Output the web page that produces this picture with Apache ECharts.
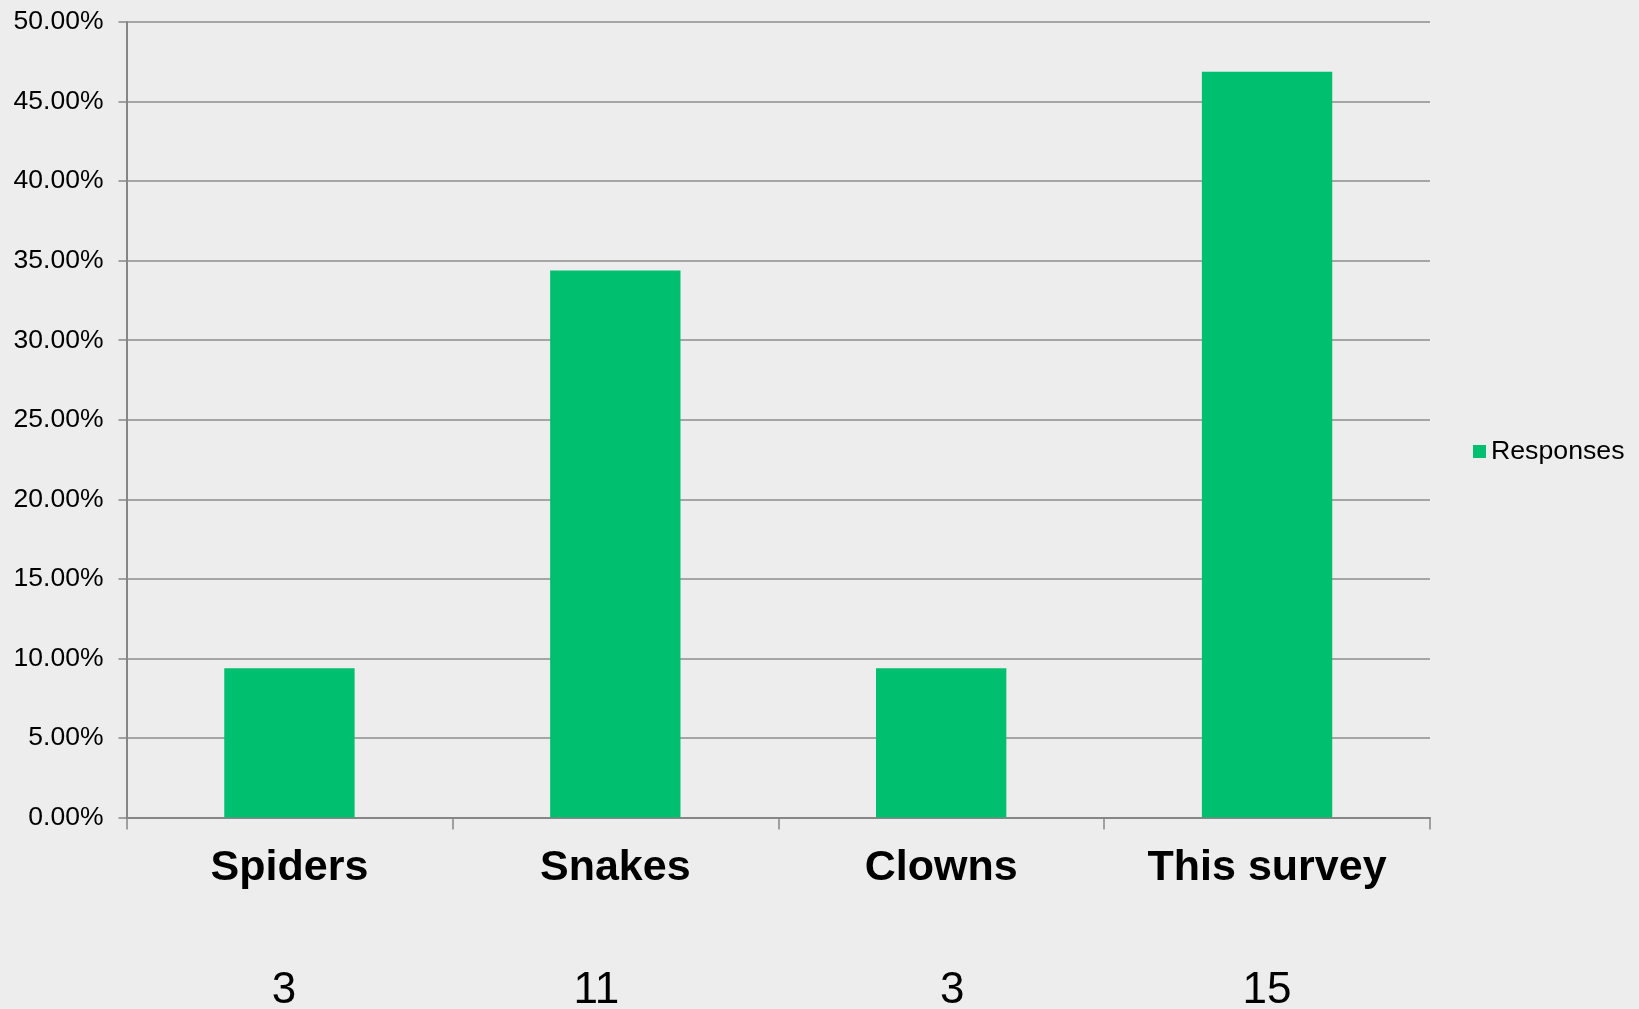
<!DOCTYPE html>
<html>
<head>
<meta charset="utf-8">
<script src="https://cdn.jsdelivr.net/npm/echarts@6/dist/echarts.min.js"></script>
<style>
html,body{margin:0;padding:0;background:#ededed;}
#c{width:1639px;height:1009px;}
</style>
</head>
<body>
<div id="c"></div>
<script>
var categories = ['Spiders', 'Snakes', 'Clowns', 'This survey'];
var counts = [3, 11, 3, 15];
var percents = [9.375, 34.375, 9.375, 46.875];
var seriesName = 'Responses';

var chart = echarts.init(document.getElementById('c'));
var font = '"Liberation Sans", Arial, sans-serif';
var numStyle = {fontFamily: font, fontSize: 44, color: '#000', lineHeight: 185};
chart.setOption({
  backgroundColor: '#ededed',
  animation: false,
  grid: {left: 126.5, right: 209, top: 22, bottom: 191.5, containLabel: false, outerBoundsMode: 'none'},
  legend: {
    data: [seriesName], orient: 'vertical', left: 1468, top: 433,
    itemWidth: 13, itemHeight: 13, itemGap: 5,
    icon: 'rect',
    textStyle: {fontFamily: font, fontSize: 26.7, color: '#000'}
  },
  xAxis: {
    type: 'category', data: categories,
    axisLine: {lineStyle: {color: '#868686', width: 2}},
    axisTick: {show: true, length: 12, lineStyle: {color: '#868686', width: 1.5}},
    axisLabel: {
      margin: 21, interval: 0,
      formatter: function (v, i) { return '{a|' + v + '}\n{b' + i + '|' + counts[i] + '}'; },
      rich: {
        a: {fontFamily: font, fontSize: 43, fontWeight: 'bold', color: '#000', lineHeight: 60},
        b0: Object.assign({padding: [0, 11, 0, 0]}, numStyle),
        b1: Object.assign({padding: [0, 38, 0, 0]}, numStyle),
        b2: Object.assign({padding: [0, 0, 0, 22]}, numStyle),
        b3: Object.assign({}, numStyle)
      }
    }
  },
  yAxis: {
    type: 'value', min: 0, max: 50, interval: 5,
    axisLine: {show: true, lineStyle: {color: '#868686', width: 2}},
    axisTick: {show: true, length: 8, lineStyle: {color: '#868686', width: 1.5}},
    splitLine: {lineStyle: {color: '#8c8c8c', width: 1.5}},
    axisLabel: {
      margin: 23, fontFamily: font, fontSize: 26.5, color: '#000',
      formatter: function (v) { return v.toFixed(2) + '%'; }
    }
  },
  series: [{
    name: seriesName, type: 'bar', data: percents,
    barWidth: '40%',
    itemStyle: {color: '#00bf6f'}
  }]
});
</script>
</body>
</html>
